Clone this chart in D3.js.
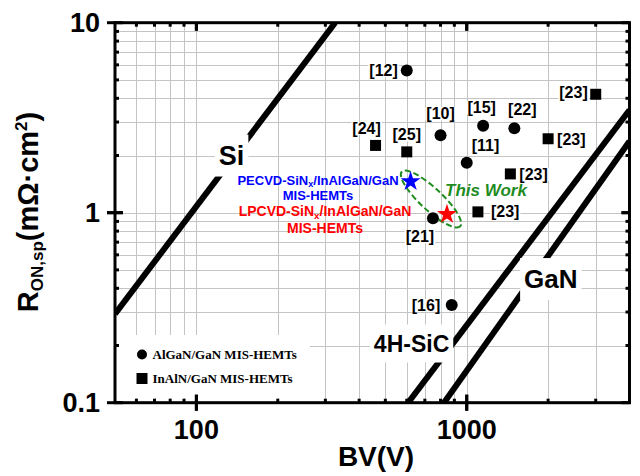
<!DOCTYPE html>
<html>
<head>
<meta charset="utf-8">
<script src="https://cdn.jsdelivr.net/npm/d3@7"></script>
<style>
  body { margin: 0; background: #fff; }
  svg { display: block; font-family: "Liberation Sans", Arial, sans-serif; font-weight: bold; }
</style>
</head>
<body>
<div id="chart"></div>
<script>
// AlGaN/GaN MIS-HEMTs (circles)
const alganBV = [600, 800, 1150, 1500, 1000, 750, 880];
const alganRon = [5.6, 2.56, 2.87, 2.78, 1.83, 0.935, 0.327];
const alganRef = ["[12]", "[10]", "[15]", "[22]", "[11]", "[21]", "[16]"];

// InAlN/GaN MIS-HEMTs (squares)
const inalnBV = [3000, 2000, 1450, 1100, 460, 600];
const inalnRon = [4.2, 2.45, 1.6, 1.01, 2.26, 2.09];
const inalnRef = ["[23]", "[23]", "[23]", "[23]", "[24]", "[25]"];

// this work: PECVD (blue), LPCVD (red)
const workBV = [620, 845];
const workRon = [1.46, 0.98];
const workNames = ["PECVD", "LPCVD"];

// material limits, two end points each
const limitNames = ["Si", "4H-SiC", "GaN"];
const limitBV = [[50, 326], [607, 4000], [824, 4000]];
const limitRon = [[0.293, 10], [0.1, 3.47], [0.1, 2.38]];

const xTickLabels = [100, 1000];
const yTickLabels = [0.1, 1, 10];

const width = 640, height = 476;
const margin = { top: 22.7, right: 10.5, bottom: 73.3, left: 115 };

const x = d3.scaleLog().domain([50, 4000]).range([margin.left, width - margin.right]);
const y = d3.scaleLog().domain([0.1, 10]).range([height - margin.bottom, margin.top]);

const svg = d3.select("#chart").append("svg")
  .attr("width", width)
  .attr("height", height);

svg.append("rect").attr("width", width).attr("height", height).attr("fill", "#fff");

svg.append("clipPath").attr("id", "plot")
  .append("rect")
  .attr("x", margin.left).attr("y", margin.top)
  .attr("width", width - margin.left - margin.right)
  .attr("height", height - margin.top - margin.bottom);

const x0 = x.range()[0], x1 = x.range()[1];
const y0 = y.range()[0], y1 = y.range()[1];
const crisp = v => Math.round(v) + 0.5;

// grid
const xGrid = x.ticks().filter(v => v > 50 && v < 4000);
const yGrid = y.ticks().filter(v => v > 0.1 && v < 10);
const grid = svg.append("g").attr("stroke", "#c4c4c4").attr("stroke-width", 1);
grid.selectAll(".gx").data(xGrid).join("line")
  .attr("x1", d => crisp(x(d))).attr("x2", d => crisp(x(d)))
  .attr("y1", y1).attr("y2", y0);
grid.selectAll(".gy").data(yGrid).join("line")
  .attr("y1", d => crisp(y(d))).attr("y2", d => crisp(y(d)))
  .attr("x1", x0).attr("x2", x1);

// limit lines
const lines = svg.append("g").attr("clip-path", "url(#plot)");
limitNames.forEach((name, i) => {
  lines.append("line")
    .attr("x1", x(limitBV[i][0])).attr("y1", y(limitRon[i][0]))
    .attr("x2", x(limitBV[i][1])).attr("y2", y(limitRon[i][1]))
    .attr("stroke", "#000").attr("stroke-width", 6);
});

function boxed(g, px, py, str, size, anchor, padX, padY) {
  const t = g.append("text")
    .attr("x", px).attr("y", py)
    .attr("dy", "0.35em")
    .attr("text-anchor", anchor)
    .style("font-size", size + "px")
    .text(str);
  const b = t.node().getBBox();
  g.insert("rect", () => t.node())
    .attr("x", b.x - padX).attr("y", b.y - padY)
    .attr("width", b.width + 2 * padX).attr("height", b.height + 2 * padY)
    .attr("fill", "#fff");
  return t;
}

// limit labels
const limitLabelAt = [[135, 2.01], [625, 0.205], [2047, 0.448]];
const limitLabelSize = [27, 23, 26];
const limitLabels = svg.append("g");
limitNames.forEach((name, i) => {
  boxed(limitLabels, x(limitLabelAt[i][0]), y(limitLabelAt[i][1]), name, limitLabelSize[i], "middle", 4, 6);
});

// annotation text
const note = svg.append("g").attr("text-anchor", "middle");
function twoLine(name, cx, b1, b2, size, color) {
  const t = note.append("text").attr("x", cx).attr("y", b1)
    .attr("fill", color).style("font-size", size + "px");
  t.append("tspan").text(name + "-SiN");
  t.append("tspan").attr("dy", 2.5).style("font-size", (size * 0.7) + "px").text("x");
  t.append("tspan").attr("dy", -2.5).text("/InAlGaN/GaN");
  note.append("text").attr("x", cx).attr("y", b2)
    .attr("fill", color).style("font-size", size + "px").text("MIS-HEMTs");
}
twoLine(workNames[0], 318, 184.5, 200, 13, "#0000ff");
twoLine(workNames[1], 325, 216, 232.5, 14, "#ff0000");

svg.append("text")
  .attr("x", 445).attr("y", 196)
  .attr("fill", "#1f8c1f")
  .style("font-size", "17px").style("font-style", "italic")
  .text("This Work");

svg.append("ellipse")
  .attr("transform", "translate(431,199) rotate(43)")
  .attr("rx", 40).attr("ry", 11)
  .attr("fill", "none").attr("stroke", "#1f8c1f")
  .attr("stroke-width", 2).attr("stroke-dasharray", "6,3");

// reference labels
const alganOff = [[-9, 0, "end"], [0, -21.5, "middle"], [-1.5, -18, "middle"], [8, -19, "middle"],
  [5, -17, "start"], [-13, 18.5, "middle"], [-11.5, 0.5, "end"]];
const inalnOff = [[-8, -1.5, "end"], [9, 0.5, "start"], [9, 0.5, "start"], [13, 0, "start"],
  [-9, -17, "middle"], [0, -17, "middle"]];
const refs = svg.append("g");
alganRef.forEach((r, i) => {
  boxed(refs, x(alganBV[i]) + alganOff[i][0], y(alganRon[i]) + alganOff[i][1], r, 16, alganOff[i][2], 1, -2);
});
inalnRef.forEach((r, i) => {
  boxed(refs, x(inalnBV[i]) + inalnOff[i][0], y(inalnRon[i]) + inalnOff[i][1], r, 16, inalnOff[i][2], 1, -2);
});

// markers
const circle = d3.symbol().type(d3.symbolCircle).size(Math.PI * 36);
const square = d3.symbol().type(d3.symbolSquare).size(121);
const star = d3.symbol().type(d3.symbolStar).size(124);

svg.append("g").selectAll("path").data(alganBV).join("path")
  .attr("d", circle)
  .attr("transform", (d, i) => `translate(${x(d)},${y(alganRon[i])})`);
svg.append("g").selectAll("path").data(inalnBV).join("path")
  .attr("d", square)
  .attr("transform", (d, i) => `translate(${x(d)},${y(inalnRon[i])})`);
svg.append("g").selectAll("path").data(workBV).join("path")
  .attr("d", star)
  .attr("fill", (d, i) => (i === 0 ? "#0000ff" : "#ff0000"))
  .attr("transform", (d, i) => `translate(${x(d)},${y(workRon[i])})`);

// legend
const legend = svg.append("g");
legend.append("rect")
  .attr("x", x0).attr("y", 335).attr("width", 195).attr("height", 63)
  .attr("fill", "#fff");
legend.append("path").attr("d", d3.symbol().type(d3.symbolCircle).size(Math.PI * 25))
  .attr("transform", "translate(142,354.5)");
legend.append("path").attr("d", square).attr("transform", "translate(142,378.5)");
legend.selectAll("text").data(["AlGaN/GaN MIS-HEMTs", "InAlN/GaN MIS-HEMTs"]).join("text")
  .attr("x", 152.5).attr("y", (d, i) => 359 + i * 24)
  .style("font-family", '"Liberation Serif", "Times New Roman", serif')
  .style("font-size", "13px")
  .text(d => d);

// frame and ticks
const axes = svg.append("g").attr("stroke", "#000").attr("stroke-width", 3);
xGrid.concat(xTickLabels).forEach(v => {
  const major = xTickLabels.includes(v);
  const px = x(v);
  axes.append("line").attr("x1", px).attr("x2", px)
    .attr("y1", major ? y0 + 8 : y0).attr("y2", y0 - (major ? 8 : 4));
  axes.append("line").attr("x1", px).attr("x2", px)
    .attr("y1", y1).attr("y2", y1 + (major ? 8 : 4));
});
yGrid.concat(yTickLabels).forEach(v => {
  const major = yTickLabels.includes(v);
  const py = y(v);
  axes.append("line").attr("y1", py).attr("y2", py)
    .attr("x1", major ? x0 - 8 : x0).attr("x2", x0 + (major ? 8 : 4));
  axes.append("line").attr("y1", py).attr("y2", py)
    .attr("x1", x1).attr("x2", x1 - (major ? 8 : 4));
});
axes.append("rect")
  .attr("x", x0).attr("y", y1).attr("width", x1 - x0).attr("height", y0 - y1)
  .attr("fill", "none");

// tick labels
svg.append("g").attr("text-anchor", "middle").style("font-size", "27px")
  .selectAll("text").data(xTickLabels).join("text")
  .attr("x", d => x(d)).attr("y", 438.5)
  .text(d => d);
svg.append("g").attr("text-anchor", "end").style("font-size", "27px")
  .selectAll("text").data(yTickLabels).join("text")
  .attr("x", 100).attr("y", d => y(d)).attr("dy", "0.35em")
  .text(d => d);

// axis titles
svg.append("text")
  .attr("x", 376).attr("y", 466)
  .attr("text-anchor", "middle")
  .style("font-size", "28px")
  .text("BV(V)");

const yTitle = svg.append("text")
  .attr("transform", "translate(38,212) rotate(-90)")
  .attr("text-anchor", "middle")
  .style("font-size", "29px");
yTitle.append("tspan").text("R");
yTitle.append("tspan").attr("dy", 5).style("font-size", "17px").text("ON,sp");
yTitle.append("tspan").attr("dy", -5).text("(mΩ·cm");
yTitle.append("tspan").attr("dy", -11).style("font-size", "17px").text("2");
yTitle.append("tspan").attr("dy", 11).text(")");
</script>
</body>
</html>
